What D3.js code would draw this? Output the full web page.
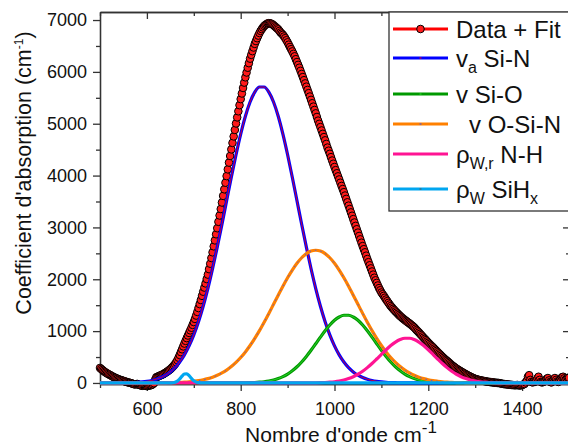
<!DOCTYPE html>
<html>
<head>
<meta charset="utf-8">
<script src="https://cdn.jsdelivr.net/npm/d3@7"></script>
<style>
  body { margin: 0; background: #fff; }
  svg { display: block; font-family: "Liberation Sans", Arial, sans-serif; }
</style>
</head>
<body>
<div id="chart"></div>
<script>
// measured spectrum: [wavenumber cm-1, absorption cm-1]
const spectrum = [
  [500,290],[502.5,270],[505,250],[507.5,232],[510,215],[512.5,200],[515,185],[517.5,172],[520,160],[522.5,148],
  [525,135],[527.5,122],[530,110],[532.5,100],[535,90],[537.5,80],[540,70],[542.5,62],[545,55],[547.5,48],
  [550,40],[552.5,32],[555,25],[557.5,18],[560,10],[562.5,5],[565,0],[567.5,-8],[570,-15],[572.5,-25],
  [575,-30],[577.5,-22],[580,-20],[582.5,-35],[585,-40],[587.5,-50],[590,-55],[592.5,-48],[595,-45],[597.5,-55],
  [600,-60],[602.5,-55],[605,-50],[607.5,-45],[610,-40],[612.5,-25],[615,-5],[617.5,60],[620,110],[622.5,120],
  [625,130],[627.5,140],[630,150],[632.5,160],[635,170],[637.5,185],[640,200],[642.5,215],[645,230],[647.5,248],
  [650,265],[652.5,287],[655,310],[657.5,337],[660,365],[662.5,400],[665,440],[667.5,488],[670,540],[672.5,595],
  [675,650],[677.5,705],[680,760],[682.5,812],[685,865],[687.5,915],[690,965],[692.5,1015],[695,1065],[697.5,1120],
  [700,1175],[702.5,1235],[705,1300],[707.5,1370],[710,1445],[712.5,1522],[715,1600],[717.5,1680],[720,1760],[722.5,1840],
  [725,1920],[727.5,2005],[730,2090],[732.5,2195],[735,2300],[737.5,2410],[740,2520],[742.5,2635],[745,2750],[747.5,2868],
  [750,2985],[752.5,3108],[755,3230],[757.5,3355],[760,3480],[762.5,3608],[765,3735],[767.5,3862],[770,3990],[772.5,4120],
  [775,4250],[777.5,4378],[780,4505],[782.5,4630],[785,4755],[787.5,4880],[790,5005],[792.5,5122],[795,5240],[797.5,5358],
  [800,5475],[802.5,5583],[805,5690],[807.5,5793],[810,5895],[812.5,5988],[815,6080],[817.5,6168],[820,6255],[822.5,6328],
  [825,6400],[827.5,6470],[830,6540],[832.5,6595],[835,6650],[837.5,6700],[840,6750],[842.5,6790],[845,6825],[847.5,6857],
  [850,6885],[852.5,6905],[855,6920],[857.5,6935],[860,6940],[862.5,6937],[865,6930],[867.5,6917],[870,6900],[872.5,6880],
  [875,6860],[877.5,6840],[880,6820],[882.5,6790],[885,6760],[887.5,6738],[890,6715],[892.5,6683],[895,6650],[897.5,6610],
  [900,6570],[902.5,6525],[905,6480],[907.5,6438],[910,6395],[912.5,6348],[915,6300],[917.5,6245],[920,6190],[922.5,6135],
  [925,6080],[927.5,6020],[930,5960],[932.5,5900],[935,5840],[937.5,5778],[940,5715],[942.5,5652],[945,5590],[947.5,5525],
  [950,5460],[952.5,5395],[955,5330],[957.5,5265],[960,5200],[962.5,5130],[965,5060],[967.5,4998],[970,4935],[972.5,4870],
  [975,4805],[977.5,4742],[980,4680],[982.5,4610],[985,4540],[987.5,4480],[990,4420],[992.5,4355],[995,4290],[997.5,4228],
  [1000,4165],[1002.5,4105],[1005,4045],[1007.5,3985],[1010,3925],[1012.5,3862],[1015,3800],[1017.5,3740],[1020,3680],[1022.5,3615],
  [1025,3550],[1027.5,3485],[1030,3420],[1032.5,3355],[1035,3290],[1037.5,3225],[1040,3160],[1042.5,3095],[1045,3030],[1047.5,2965],
  [1050,2900],[1052.5,2835],[1055,2770],[1057.5,2705],[1060,2640],[1062.5,2580],[1065,2520],[1067.5,2455],[1070,2390],[1072.5,2330],
  [1075,2270],[1077.5,2210],[1080,2150],[1082.5,2090],[1085,2030],[1087.5,1980],[1090,1930],[1092.5,1880],[1095,1830],[1097.5,1788],
  [1100,1745],[1102.5,1712],[1105,1680],[1107.5,1645],[1110,1610],[1112.5,1578],[1115,1545],[1117.5,1513],[1120,1482],[1122.5,1456],
  [1125,1430],[1127.5,1405],[1130,1380],[1132.5,1358],[1135,1335],[1137.5,1312],[1140,1290],[1142.5,1270],[1145,1250],[1147.5,1232],
  [1150,1214],[1152.5,1197],[1155,1180],[1157.5,1163],[1160,1147],[1162.5,1128],[1165,1110],[1167.5,1090],[1170,1070],[1172.5,1045],
  [1175,1020],[1177.5,997],[1180,973],[1182.5,948],[1185,923],[1187.5,898],[1190,873],[1192.5,849],[1195,825],[1197.5,800],
  [1200,776],[1202.5,753],[1205,730],[1207.5,708],[1210,687],[1212.5,663],[1215,640],[1217.5,617],[1220,594],[1222.5,571],
  [1225,549],[1227.5,526],[1230,504],[1232.5,483],[1235,462],[1237.5,443],[1240,425],[1242.5,405],[1245,385],[1247.5,364],
  [1250,344],[1252.5,327],[1255,310],[1257.5,293],[1260,277],[1262.5,262],[1265,248],[1267.5,234],[1270,221],[1272.5,207],
  [1275,194],[1277.5,181],[1280,168],[1282.5,155],[1285,143],[1287.5,131],[1290,120],[1292.5,109],[1295,98],[1297.5,88],
  [1300,79],[1302.5,72],[1305,66],[1307.5,60],[1310,54],[1312.5,49],[1315,44],[1317.5,40],[1320,35],[1322.5,31],
  [1325,27],[1327.5,23],[1330,20],[1332.5,17],[1335,14],[1337.5,11],[1340,8],[1342.5,5],[1345,3],[1347.5,1],
  [1350,0],[1352.5,-5],[1355,-10],[1357.5,-15],[1360,-20],[1362.5,-22],[1365,-25],[1367.5,-28],[1370,-30],[1372.5,-33],
  [1375,-35],[1377.5,-38],[1380,-40],[1382.5,-42],[1385,-45],[1387.5,-42],[1390,-40],[1392.5,-45],[1395,-50],[1397.5,-45],
  [1400,-40],[1402.5,-30],[1405,-20],[1407.5,10],[1410,40],[1412.5,120],[1415,150],[1417.5,60],[1420,20],[1422.5,10],
  [1425,30],[1427.5,20],[1430,40],[1432.5,90],[1435,120],[1437.5,60],[1440,20],[1442.5,10],[1445,20],[1447.5,30],
  [1450,40],[1452.5,80],[1455,95],[1457.5,50],[1460,20],[1462.5,10],[1465,30],[1467.5,70],[1470,95],[1472.5,60],
  [1475,30],[1477.5,20],[1480,40],[1482.5,80],[1485,110],[1487.5,120],[1490,90],[1492.5,60],[1495,80],[1497.5,100],
  [1500,100]
];

// fitted bands, sampled every 10 cm-1
const bandWavenumber = [
  500,510,520,530,540,550,560,570,580,590,
  600,610,620,630,640,650,660,670,680,690,
  700,710,720,730,740,750,760,770,780,790,
  800,810,820,830,840,850,860,870,880,890,
  900,910,920,930,940,950,960,970,980,990,
  1000,1010,1020,1030,1040,1050,1060,1070,1080,1090,
  1100,1110,1120,1130,1140,1150,1160,1170,1180,1190,
  1200,1210,1220,1230,1240,1250,1260,1270,1280,1290,
  1300,1310,1320,1330,1340,1350,1360,1370,1380,1390,
  1400,1410,1420,1430,1440,1450,1460,1470,1480,1490,
  1500
];
const bandSiN = [
  0,0,0,1,2,3,5,8,13,21,
  32,48,72,105,150,213,296,404,542,715,
  927,1181,1479,1820,2203,2619,3060,3515,3968,4402,
  4800,5145,5419,5610,5708,5708,5610,5419,5145,4800,
  4402,3968,3515,3060,2619,2203,1820,1479,1181,927,
  715,542,404,296,213,150,105,72,48,32,
  21,13,8,5,3,2,1,0,0,0,
  0,0,0,0,0,0,0,0,0,0,
  0,0,0,0,0,0,0,0,0,0,
  0,0,0,0,0,0,0,0,0,0,
  0
];
const bandSiO = [
  0,0,0,0,0,0,0,0,0,0,
  0,0,0,0,0,0,0,0,0,0,
  0,0,0,0,0,0,0,0,0,1,
  2,3,6,9,15,24,38,58,85,122,
  172,235,312,405,512,630,756,884,1007,1117,
  1208,1272,1306,1306,1272,1208,1117,1007,884,756,
  630,512,405,312,235,172,122,85,58,38,
  24,15,9,6,3,2,1,0,0,0,
  0,0,0,0,0,0,0,0,0,0,
  0,0,0,0,0,0,0,0,0,0,
  0
];
const bandOSiN = [
  0,0,0,0,0,0,0,0,0,0,
  0,0,1,2,3,5,8,11,16,23,
  33,45,62,84,112,148,193,249,316,396,
  490,599,722,860,1010,1172,1342,1517,1693,1866,
  2029,2178,2309,2415,2495,2544,2560,2544,2495,2415,
  2309,2178,2029,1866,1693,1517,1342,1172,1010,860,
  722,599,490,396,316,249,193,148,112,84,
  62,45,33,23,16,11,8,5,3,2,
  1,0,0,0,0,0,0,0,0,0,
  0,0,0,0,0,0,0,0,0,0,
  0
];
const bandNH = [
  0,0,0,0,0,0,0,0,0,0,
  0,0,0,0,0,0,0,0,0,0,
  0,0,0,0,0,0,0,0,0,0,
  0,0,0,0,0,0,0,0,0,0,
  0,0,0,0,1,2,3,5,9,15,
  24,38,58,85,121,168,226,296,375,462,
  552,640,721,788,837,862,862,837,788,721,
  640,552,462,375,296,226,168,121,85,58,
  38,24,15,9,5,3,2,1,0,0,
  0,0,0,0,0,0,0,0,0,0,
  0
];
// narrow SiHx band, finer sampling
const bandSiHxWavenumber = [500,650,655,660,665,670,675,680,685,690,695,700,705,710,720,1500];
const bandSiHx = [0,1,4,13,36,77,131,172,176,141,88,42,16,5,1,0];

const xMajor = [600, 800, 1000, 1200, 1400];
const xMinor = [500, 700, 900, 1100, 1300, 1500];
const yMajor = [0, 1000, 2000, 3000, 4000, 5000, 6000, 7000];
const yMinor = [500, 1500, 2500, 3500, 4500, 5500, 6500];

const W = 568, H = 448;
const svg = d3.select("#chart").append("svg")
  .attr("width", W)
  .attr("height", H);

const x = d3.scaleLinear().domain([500, 1500]).range([100, 569]);
const y = d3.scaleLinear().domain([-20, 7155]).range([384, 12]);

const axisColor = "#333";

function styleAxis(g) {
  g.select(".domain").attr("stroke", axisColor).attr("stroke-width", 1.3);
  g.selectAll(".tick line").attr("stroke", axisColor).attr("stroke-width", 1.3);
  g.selectAll(".tick text").attr("font-size", "18px").attr("fill", "#111")
    .attr("font-family", "'Liberation Sans', Arial, sans-serif");
}

// bottom
svg.append("g").attr("transform", "translate(0,384)")
  .call(d3.axisBottom(x).tickValues(xMajor).tickSize(7).tickSizeOuter(0).tickPadding(11).tickFormat(d3.format("d")))
  .call(styleAxis);
svg.append("g").attr("transform", "translate(0,384)")
  .call(d3.axisBottom(x).tickValues(xMinor).tickSize(4).tickSizeOuter(0).tickFormat(""))
  .call(styleAxis);
// top (ticks inward)
svg.append("g").attr("transform", "translate(0,12)")
  .call(d3.axisTop(x).tickValues(xMajor).tickSize(-7).tickSizeOuter(0).tickFormat(""))
  .call(styleAxis);
svg.append("g").attr("transform", "translate(0,12)")
  .call(d3.axisTop(x).tickValues(xMinor).tickSize(-4).tickSizeOuter(0).tickFormat(""))
  .call(styleAxis);
// left
svg.append("g").attr("transform", "translate(100,0)")
  .call(d3.axisLeft(y).tickValues(yMajor).tickSize(7).tickSizeOuter(0).tickPadding(6).tickFormat(d3.format("d")))
  .call(styleAxis);
svg.append("g").attr("transform", "translate(100,0)")
  .call(d3.axisLeft(y).tickValues(yMinor).tickSize(4).tickSizeOuter(0).tickFormat(""))
  .call(styleAxis);
// right (ticks inward)
svg.append("g").attr("transform", "translate(569,0)")
  .call(d3.axisRight(y).tickValues(yMajor).tickSize(-6).tickSizeOuter(0).tickFormat(""))
  .call(styleAxis);
svg.append("g").attr("transform", "translate(569,0)")
  .call(d3.axisRight(y).tickValues(yMinor).tickSize(-3).tickSizeOuter(0).tickFormat(""))
  .call(styleAxis);

// axis titles
const xTitle = svg.append("text")
  .attr("x", 341).attr("y", 442)
  .attr("text-anchor", "middle")
  .attr("font-size", "21px")
  .attr("fill", "#111");
xTitle.append("tspan").text("Nombre d'onde cm");
xTitle.append("tspan").attr("font-size", "17px").attr("dy", -9).text("-1");

const yTitle = svg.append("text")
  .attr("transform", "translate(31,173) rotate(-90)")
  .attr("text-anchor", "middle")
  .attr("font-size", "21.5px")
  .attr("fill", "#111");
yTitle.append("tspan").text("Coefficient d'absorption (cm");
yTitle.append("tspan").attr("font-size", "12px").attr("dy", -8).text("-1");
yTitle.append("tspan").attr("dy", 8).text(")");

// data + fit
const dataLine = d3.line().x(d => x(d[0])).y(d => y(d[1]));
svg.append("path")
  .datum(spectrum)
  .attr("d", dataLine)
  .attr("fill", "none")
  .attr("stroke", "#ff0000")
  .attr("stroke-width", 2);
svg.append("g").selectAll("circle")
  .data(spectrum)
  .join("circle")
  .attr("cx", d => x(d[0]))
  .attr("cy", d => y(d[1]))
  .attr("r", 3.8)
  .attr("fill", "#ff1a1a")
  .attr("stroke", "#000")
  .attr("stroke-width", 1);

// fitted bands
const bands = [
  { xs: bandWavenumber, ys: bandSiN, color: "#0000ff", inner: "#ff0000", dash: null },
  { xs: bandWavenumber, ys: bandSiO, color: "#009900", inner: "#33dd33", dash: null },
  { xs: bandWavenumber, ys: bandOSiN, color: "#ff8000", inner: "#3050ff", dash: "1.5,4" },
  { xs: bandWavenumber, ys: bandNH, color: "#ff1493", inner: null, dash: null },
  { xs: bandSiHxWavenumber, ys: bandSiHx, color: "#00a6f0", inner: null, dash: null }
];
const bandLine = d3.line().x(d => x(d[0])).y(d => y(d[1])).curve(d3.curveMonotoneX);
bands.forEach(b => {
  const pts = b.xs.map((w, i) => [w, b.ys[i]]);
  svg.append("path")
    .datum(pts)
    .attr("d", bandLine)
    .attr("fill", "none")
    .attr("stroke", b.color)
    .attr("stroke-width", 3.2);
  if (b.inner) {
    svg.append("path")
      .datum(pts)
      .attr("d", bandLine)
      .attr("fill", "none")
      .attr("stroke", b.inner)
      .attr("stroke-width", 0.8)
      .attr("stroke-dasharray", b.dash);
  }
});

// legend
const legend = svg.append("g");
legend.append("rect")
  .attr("x", 389).attr("y", 12)
  .attr("width", 180).attr("height", 199)
  .attr("fill", "#fff")
  .attr("stroke", axisColor)
  .attr("stroke-width", 1.3);

const legendRows = [
  { y: 29, color: "#ff0000", mark: "circle", tx: 456, parts: [["Data + Fit", 0]] },
  { y: 58, color: "#0000ff", mark: "#ff0000", tx: 456, parts: [["v", 0], ["a", 1], [" Si-N", 0]] },
  { y: 94, color: "#009900", mark: "#33dd33", tx: 456, parts: [["v Si-O", 0]] },
  { y: 124, color: "#ff8000", mark: "#3050ff", tx: 469, parts: [["v O-Si-N", 0]] },
  { y: 154, color: "#ff1493", mark: null, tx: 456, parts: [["ρ", 0], ["W,r", 1], [" N-H", 0]] },
  { y: 189, color: "#00a6f0", mark: "#555", tx: 456, parts: [["ρ", 0], ["W", 1], [" SiH", 0], ["x", 1]] }
];

legendRows.forEach(r => {
  legend.append("line")
    .attr("x1", 393).attr("x2", 448)
    .attr("y1", r.y).attr("y2", r.y)
    .attr("stroke", r.color)
    .attr("stroke-width", 3.2);
  if (r.mark === "circle") {
    legend.append("circle")
      .attr("cx", 420.5).attr("cy", r.y).attr("r", 3.8)
      .attr("fill", "#ff1a1a").attr("stroke", "#000").attr("stroke-width", 1);
  } else if (r.mark) {
    legend.append("rect")
      .attr("x", 419.5).attr("y", r.y - 0.5).attr("width", 2).attr("height", 1)
      .attr("fill", r.mark);
  }
  const t = legend.append("text")
    .attr("x", r.tx).attr("y", r.y + 8.5)
    .attr("font-size", "24px")
    .attr("fill", "#111");
  let sub = false;
  r.parts.forEach(([txt, isSub]) => {
    const s = t.append("tspan").text(txt);
    if (isSub && !sub) { s.attr("font-size", "16px").attr("dy", 6); sub = true; }
    else if (isSub && sub) { s.attr("font-size", "16px"); }
    else if (!isSub && sub) { s.attr("dy", -6); sub = false; }
  });
});
</script>
</body>
</html>
